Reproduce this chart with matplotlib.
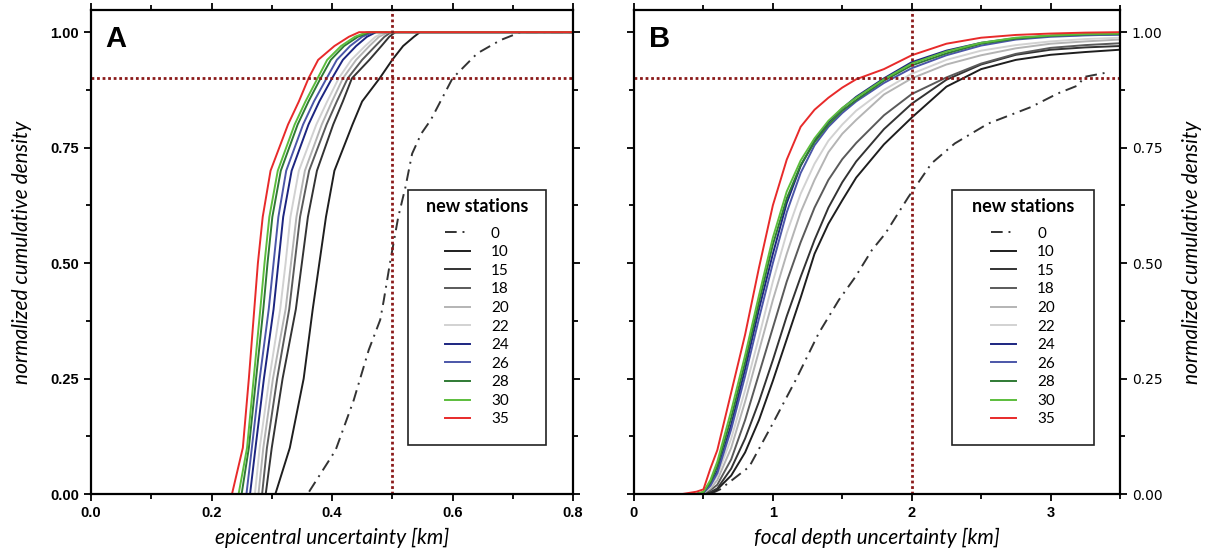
import matplotlib
matplotlib.use("Agg")
import matplotlib.pyplot as plt
from matplotlib.patches import Rectangle
from matplotlib.ticker import MultipleLocator, FormatStrFormatter

# ---- data ----
labels = ["0", "10", "15", "18", "20", "22", "24", "26", "28", "30", "35"]
colors = ["#333333", "#1e1e1e", "#333333", "#5a5a5a", "#b4b4b4", "#d2d2d2",
          "#1c2580", "#4b56a8", "#2f7a34", "#5cbd3c", "#e82a2a"]

# panel A: epicentral uncertainty (km) where each curve reaches the cumulative levels
a_levels = [0.0, 0.1, 0.25, 0.4, 0.5, 0.6, 0.7, 0.8, 0.85, 0.9, 0.94, 0.97, 0.99, 1.0, 1.0]
a_10 = [0.306, 0.330, 0.353, 0.368, 0.379, 0.390, 0.404, 0.434, 0.450, 0.479, 0.500, 0.518, 0.536, 0.546, 0.8]
a_15 = [0.290, 0.300, 0.318, 0.340, 0.350, 0.360, 0.375, 0.402, 0.418, 0.433, 0.462, 0.482, 0.495, 0.505, 0.8]
a_18 = [0.284, 0.292, 0.309, 0.329, 0.338, 0.347, 0.362, 0.391, 0.408, 0.426, 0.450, 0.472, 0.487, 0.498, 0.8]
a_20 = [0.278, 0.286, 0.302, 0.323, 0.332, 0.341, 0.355, 0.383, 0.400, 0.418, 0.440, 0.462, 0.478, 0.493, 0.8]
a_22 = [0.272, 0.280, 0.296, 0.314, 0.323, 0.331, 0.345, 0.374, 0.392, 0.411, 0.432, 0.455, 0.472, 0.488, 0.8]
a_24 = [0.264, 0.273, 0.287, 0.303, 0.311, 0.319, 0.333, 0.361, 0.379, 0.400, 0.418, 0.440, 0.458, 0.473, 0.8]
a_26 = [0.258, 0.267, 0.280, 0.295, 0.303, 0.311, 0.324, 0.352, 0.370, 0.391, 0.408, 0.430, 0.450, 0.468, 0.8]
a_28 = [0.250, 0.262, 0.274, 0.286, 0.293, 0.301, 0.315, 0.343, 0.361, 0.381, 0.398, 0.420, 0.443, 0.463, 0.8]
a_30 = [0.245, 0.259, 0.270, 0.281, 0.288, 0.296, 0.310, 0.338, 0.356, 0.376, 0.392, 0.415, 0.438, 0.458, 0.8]
a_35 = [0.234, 0.252, 0.262, 0.271, 0.277, 0.285, 0.298, 0.327, 0.345, 0.361, 0.377, 0.404, 0.428, 0.445, 0.8]
# reference run without new stations (dash-dot)
a_0_x = [0.362, 0.406, 0.436, 0.461, 0.480, 0.486, 0.497, 0.510, 0.522, 0.533, 0.548, 0.564,
         0.600, 0.641, 0.680, 0.713, 0.8]
a_0_y = [0.005, 0.095, 0.203, 0.312, 0.377, 0.420, 0.506, 0.600, 0.665, 0.737, 0.780, 0.810,
         0.900, 0.954, 0.983, 1.0, 1.0]

# panel B: cumulative density at fixed focal depth uncertainties (km)
b_depth = [0.35, 0.45, 0.5, 0.55, 0.6, 0.7, 0.8, 0.9, 1.0, 1.1, 1.2, 1.3, 1.4, 1.5,
           1.6, 1.8, 2.0, 2.25, 2.5, 2.75, 3.0, 3.25, 3.5]
b_10 = [0, 0, 0, 0.003, 0.010, 0.040, 0.090, 0.160, 0.245, 0.335, 0.425, 0.520, 0.585, 0.636,
        0.685, 0.757, 0.815, 0.882, 0.920, 0.940, 0.951, 0.957, 0.962]
b_15 = [0, 0, 0.001, 0.004, 0.012, 0.055, 0.120, 0.200, 0.290, 0.385, 0.470, 0.550, 0.620, 0.675,
        0.720, 0.790, 0.845, 0.897, 0.930, 0.951, 0.962, 0.967, 0.970]
b_18 = [0, 0, 0.002, 0.008, 0.020, 0.075, 0.160, 0.260, 0.360, 0.460, 0.545, 0.620, 0.680, 0.725,
        0.760, 0.820, 0.866, 0.902, 0.932, 0.953, 0.966, 0.972, 0.976]
b_20 = [0, 0, 0.002, 0.012, 0.030, 0.100, 0.200, 0.310, 0.420, 0.520, 0.610, 0.680, 0.740, 0.780,
        0.810, 0.865, 0.900, 0.930, 0.950, 0.965, 0.975, 0.980, 0.984]
b_22 = [0, 0, 0.003, 0.015, 0.040, 0.120, 0.225, 0.340, 0.460, 0.565, 0.650, 0.715, 0.765, 0.800,
        0.830, 0.875, 0.910, 0.940, 0.960, 0.972, 0.980, 0.985, 0.988]
b_24 = [0, 0, 0.003, 0.020, 0.050, 0.150, 0.270, 0.400, 0.520, 0.630, 0.710, 0.765, 0.805, 0.835,
        0.860, 0.900, 0.935, 0.960, 0.977, 0.987, 0.992, 0.994, 0.995]
b_26 = [0, 0, 0.003, 0.018, 0.045, 0.140, 0.255, 0.380, 0.500, 0.610, 0.695, 0.755, 0.795, 0.825,
        0.850, 0.890, 0.922, 0.950, 0.971, 0.984, 0.990, 0.993, 0.995]
b_28 = [0, 0, 0.004, 0.025, 0.060, 0.165, 0.285, 0.415, 0.540, 0.640, 0.712, 0.762, 0.800, 0.830,
        0.853, 0.895, 0.928, 0.954, 0.975, 0.986, 0.992, 0.995, 0.996]
b_30 = [0, 0, 0.005, 0.030, 0.070, 0.180, 0.300, 0.430, 0.555, 0.655, 0.722, 0.770, 0.808, 0.836,
        0.858, 0.898, 0.932, 0.958, 0.977, 0.988, 0.993, 0.996, 0.997]
b_35 = [0, 0.005, 0.010, 0.055, 0.095, 0.220, 0.345, 0.490, 0.625, 0.724, 0.795, 0.832, 0.858, 0.880,
        0.898, 0.920, 0.950, 0.975, 0.988, 0.994, 0.997, 0.999, 1.0]
b_0_x = [0.55, 0.62, 0.83, 1.0, 1.165, 1.33, 1.475, 1.594, 1.713, 1.81, 1.976, 2.143, 2.31,
         2.55, 2.86, 3.05, 3.2, 3.24, 3.43]
b_0_y = [0.0, 0.01, 0.059, 0.153, 0.247, 0.348, 0.42, 0.47, 0.528, 0.564, 0.643, 0.716, 0.759,
         0.802, 0.838, 0.867, 0.885, 0.903, 0.914]

a_curves = [a_10, a_15, a_18, a_20, a_22, a_24, a_26, a_28, a_30, a_35]
b_curves = [b_10, b_15, b_18, b_20, b_22, b_24, b_26, b_28, b_30, b_35]

ref_col = "#8b1a1a"
dashdot = (0, (6, 3, 1, 3))
tick_font = dict(family=["Liberation Sans", "DejaVu Sans"], weight="bold", size=10.5)
lab_font = dict(family=["Lato", "DejaVu Sans"], style="italic", size=15)

fig = plt.figure(figsize=(12.17, 5.57), dpi=100)
axA = fig.add_axes([91 / 1217, 1 - 494 / 557, 482 / 1217, 484 / 557])
axB = fig.add_axes([634 / 1217, 1 - 494 / 557, 486 / 1217, 484 / 557])


def style_axis(ax):
    for s in ax.spines.values():
        s.set_linewidth(1.6)
    ax.tick_params(which="both", direction="out", top=True, right=True, width=1.3)
    ax.tick_params(which="major", length=5)
    ax.tick_params(which="minor", length=3.5)
    ax.yaxis.set_major_locator(MultipleLocator(0.25))
    ax.yaxis.set_minor_locator(MultipleLocator(0.125))
    ax.yaxis.set_major_formatter(FormatStrFormatter("%.2f"))
    ax.set_ylim(0, 1.048)
    for t in ax.get_xticklabels() + ax.get_yticklabels():
        t.set(**tick_font)


def add_legend(ax, x0, x1):
    # frame drawn separately so the box can be taller than its entries, as in the original
    ax.add_patch(Rectangle((x0, 0.101), x1 - x0, 0.527, transform=ax.transAxes,
                           fc="white", ec="#222222", lw=1.2, zorder=4))
    leg = ax.legend(title="new stations", loc="upper center",
                    bbox_to_anchor=((x0 + x1) / 2, 0.612), frameon=False,
                    prop=dict(family=["Lato", "DejaVu Sans"], size=11),
                    handlelength=1.65, handletextpad=1.35, labelspacing=0.3,
                    borderpad=0, borderaxespad=0)
    leg.get_title().set(family=["Lato", "DejaVu Sans"], weight="bold", size=13)
    leg._legend_box.sep = 8.5
    leg.set_zorder(5)
    return leg


# ---- panel A ----
axA.plot(a_0_x, a_0_y, color=colors[0], lw=1.4, ls=dashdot, label=labels[0])
for lab, col, xs in zip(labels[1:], colors[1:], a_curves):
    axA.plot(xs, a_levels, color=col, lw=1.4, label=lab)
axA.axhline(0.9, color=ref_col, lw=2, ls=(0, (1, 1)))
axA.axvline(0.5, color=ref_col, lw=2, ls=(0, (1, 1)))
axA.set_xlim(0, 0.8)
axA.xaxis.set_major_locator(MultipleLocator(0.2))
axA.xaxis.set_minor_locator(MultipleLocator(0.1))
axA.xaxis.set_major_formatter(FormatStrFormatter("%.1f"))
style_axis(axA)
axA.set_xlabel("epicentral uncertainty [km]", **lab_font, labelpad=6)
axA.set_ylabel("normalized cumulative density", **lab_font, labelpad=13)
axA.text(0.03, 0.97, "A", transform=axA.transAxes, ha="left", va="top",
         family=["Liberation Sans", "DejaVu Sans"], weight="bold", size=21)
add_legend(axA, 0.657, 0.944)

# ---- panel B ----
axB.plot(b_0_x, b_0_y, color=colors[0], lw=1.4, ls=dashdot, label=labels[0])
for lab, col, ys in zip(labels[1:], colors[1:], b_curves):
    axB.plot(b_depth, ys, color=col, lw=1.4, label=lab)
axB.axhline(0.9, color=ref_col, lw=2, ls=(0, (1, 1)))
axB.axvline(2.0, color=ref_col, lw=2, ls=(0, (1, 1)))
axB.set_xlim(0, 3.5)
axB.xaxis.set_major_locator(MultipleLocator(1))
axB.xaxis.set_minor_locator(MultipleLocator(0.5))
style_axis(axB)
axB.yaxis.tick_right()
axB.yaxis.set_label_position("right")
axB.tick_params(which="both", left=True, labelleft=False, labelright=True)
axB.set_xlabel("focal depth uncertainty [km]", **lab_font, labelpad=6)
axB.set_ylabel("normalized cumulative density", **lab_font, labelpad=14)
axB.text(0.03, 0.97, "B", transform=axB.transAxes, ha="left", va="top",
         family=["Liberation Sans", "DejaVu Sans"], weight="bold", size=21)
add_legend(axB, 0.654, 0.947)

fig.savefig("out.png", dpi=100)
